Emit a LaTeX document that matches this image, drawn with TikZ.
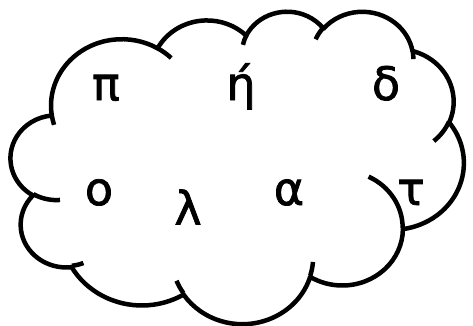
\documentclass[tikz,border=0pt]{standalone}
\usepackage{fontspec}
\newfontfamily\grk[FakeBold=1.6]{DejaVu Sans}
\newcommand\clprep[5]{%
  \pgfmathsetmacro\cltmpS{atan2((#2)*sin(#4),(#3)*cos(#4))}%
  \pgfmathsetmacro\cltmpE{atan2((#2)*sin((#4)+(#5)),(#3)*cos((#4)+(#5)))}%
  \pgfmathsetmacro\cltmpD{mod(\cltmpE-\cltmpS+720,360)}%
  \pgfmathsetmacro\cltmpE{\cltmpS+\cltmpD}%
  \expandafter\let\csname cl#1S\endcsname\cltmpS
  \expandafter\let\csname cl#1E\endcsname\cltmpE}
\tikzset{
  cloudline/.style={line width=4.5pt, line join=round},
  glyph/.style={font=\grk\fontsize{46}{55}\selectfont, inner sep=0pt, anchor=base}
}
\begin{document}
\begin{tikzpicture}[x=1pt,y=1pt]
\useasboundingbox (0,0) rectangle (473,-325);
% outer arcs
\clprep{a}{67.53}{91.90}{-190.4875}{123.7805}
\clprep{b}{53.33}{72.67}{-144.1024}{89.9452}
\clprep{c}{43.65}{59.45}{-145.8079}{99.7230}
\clprep{d}{48.57}{65.95}{-130.9861}{117.2417}
\clprep{e}{53.33}{72.73}{-78.7089}{109.0269}
\clprep{f}{67.75}{92.20}{-46.2673}{130.269}
\clprep{g}{57.85}{78.67}{0.6250}{114.0333}
\clprep{h}{67.52}{92.15}{22.4516}{115.1726}
\clprep{i}{77.20}{105.43}{66.2426}{75.7110}
\clprep{j}{43.60}{59.18}{-274.9421}{146.7356}
\clprep{k}{43.45}{59.45}{-246.8285}{152.5189}
% inner arcs
\clprep{m}{43.45}{59.45}{86.742}{26.4295}
\clprep{n}{43.60}{59.18}{73.6105}{11.4475}
\clprep{o}{67.52}{92.15}{137.6242}{14.0811}
\clprep{p}{67.52}{92.15}{6.4533}{15.9984}
\clprep{q}{57.85}{78.67}{-70.2924}{70.9174}
\clprep{r}{53.33}{72.73}{30.318}{27.7515}
\clprep{s}{48.57}{65.95}{-13.7443}{14.8584}
\clprep{t}{48.57}{65.95}{-149.1815}{18.1954}
\clprep{u}{43.65}{59.45}{-163.4943}{17.6864}
\clprep{v}{67.53}{91.90}{-66.7070}{12.3194}
\clprep{w}{67.53}{91.90}{157.6544}{11.8582}
\begin{scope}[shift={(10.8pt,-10.7pt)}, x=1.0483pt, y=-0.723pt]
\draw[cloudline, fill=white] (39.00,143.70)
  arc[x radius=67.53,y radius=91.90,start angle=\claS,end angle=\claE]
  arc[x radius=53.33,y radius=72.67,start angle=\clbS,end angle=\clbE]
  arc[x radius=43.65,y radius=59.45,start angle=\clcS,end angle=\clcE]
  arc[x radius=48.57,y radius=65.95,start angle=\cldS,end angle=\cldE]
  arc[x radius=53.33,y radius=72.73,start angle=\cleS,end angle=\cleE]
  arc[x radius=67.75,y radius=92.20,start angle=\clfS,end angle=\clfE]
  arc[x radius=57.85,y radius=78.67,start angle=\clgS,end angle=\clgE]
  arc[x radius=67.52,y radius=92.15,start angle=\clhS,end angle=\clhE]
  arc[x radius=77.20,y radius=105.43,start angle=\cliS,end angle=\cliE]
  arc[x radius=43.60,y radius=59.18,start angle=\cljS,end angle=\cljE]
  arc[x radius=43.45,y radius=59.45,start angle=\clkS,end angle=\clkE]
  -- cycle;
\draw[cloudline, line cap=butt]
  (46.93,261.77) arc[x radius=43.45,y radius=59.45,start angle=\clmS,end angle=\clmE]
  (69.28,348.99) arc[x radius=43.60,y radius=59.18,start angle=\clnS,end angle=\clnE]
  (164.78,390.90) arc[x radius=67.52,y radius=92.15,start angle=\cloS,end angle=\cloE]
  (288.27,347.51) arc[x radius=67.52,y radius=92.15,start angle=\clpS,end angle=\clpE]
  (341.29,229.54) arc[x radius=57.85,y radius=78.67,start angle=\clqS,end angle=\clqE]
  (417.98,153.54) arc[x radius=53.33,y radius=72.73,start angle=\clrS,end angle=\clrE]
  (383.24,54.26) arc[x radius=48.57,y radius=65.95,start angle=\clsS,end angle=\clsE]
  (290.78,39.52) arc[x radius=48.57,y radius=65.95,start angle=\cltS,end angle=\cltE]
  (221.41,47.20) arc[x radius=43.65,y radius=59.45,start angle=\cluS,end angle=\cluE]
  (140.00,51.92) arc[x radius=67.53,y radius=91.90,start angle=\clvS,end angle=\clvE]
  (41.27,157.89) arc[x radius=67.53,y radius=91.90,start angle=\clwS,end angle=\clwE];
\end{scope}
\node[glyph] (pi) at (106,-100) {π};
\node[glyph] (eta) at (241,-100) {ή};
\node[glyph] (delta) at (386,-100) {δ};
\node[glyph] (omicron) at (99,-205) {ο};
\node[glyph, anchor=center] (lambda) at (188,-207) {λ};
\node[glyph] (alpha) at (289,-205) {α};
\node[glyph] (tau) at (411,-205) {τ};
\end{tikzpicture}
\end{document}
